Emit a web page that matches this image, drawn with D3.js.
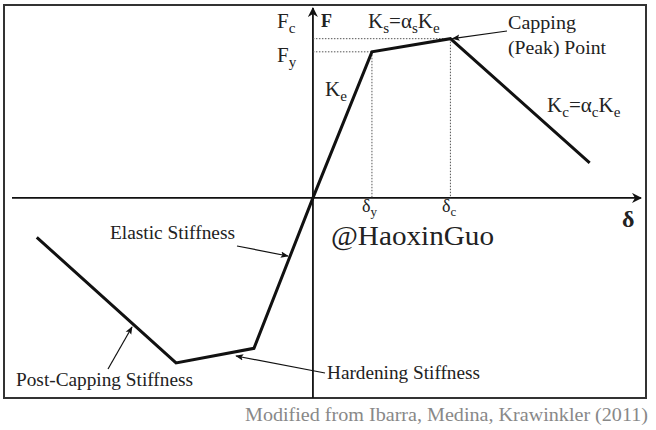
<!DOCTYPE html>
<html><head><meta charset="utf-8">
<script src="https://cdn.jsdelivr.net/npm/d3@7"></script>
</head>
<body style="margin:0;padding:0;background:#fff;"><div id="fig"></div>
<script>
// Backbone curve (normalized: delta / delta_y , F / F_y)
const backboneDelta = [-4.68, -2.32, -1.0, 0, 1.0, 2.33, 4.69];
const backboneForce = [-0.27, -1.13, -1.03, 0, 1.0, 1.09, 0.24];
const deltaY = 1.0, deltaC = 2.33, forceY = 1.0, forceC = 1.09;
const xDomain = [-5.1, 5.56];
const yDomain = [-1.37, 1.30];

const FONT = "Liberation Serif";
const W = 656, H = 430;
const svg = d3.select("#fig").append("svg").attr("width", W).attr("height", H)
  .style("display", "block");
const x = d3.scaleLinear().domain(xDomain).range([12, 641]);
const y = d3.scaleLinear().domain(yDomain).range([398, 8]);

// frame
svg.append("rect").attr("x", 4).attr("y", 5).attr("width", 642).attr("height", 393)
  .attr("fill", "none").attr("stroke", "#333").attr("stroke-width", 2);

const defs = svg.append("defs");
defs.append("marker").attr("id", "bigArrow").attr("viewBox", "0 0 10 10")
  .attr("refX", 9).attr("refY", 5).attr("markerWidth", 10).attr("markerHeight", 10)
  .attr("markerUnits", "userSpaceOnUse").attr("orient", "auto")
  .append("path").attr("d", "M0,0 L10,5 L0,10 L3,5 Z").attr("fill", "#111");
defs.append("marker").attr("id", "smallArrow").attr("viewBox", "0 0 10 10")
  .attr("refX", 9).attr("refY", 5).attr("markerWidth", 8).attr("markerHeight", 8)
  .attr("markerUnits", "userSpaceOnUse").attr("orient", "auto")
  .append("path").attr("d", "M0,1 L10,5 L0,9 L2,5 Z").attr("fill", "#111");

// axes
svg.append("line").attr("x1", x(xDomain[0])).attr("x2", x(xDomain[1])).attr("y1", y(0)).attr("y2", y(0))
  .attr("stroke", "#111").attr("stroke-width", 1.8).attr("marker-end", "url(#bigArrow)");
svg.append("line").attr("x1", x(0)).attr("x2", x(0)).attr("y1", y(yDomain[0])).attr("y2", y(yDomain[1]))
  .attr("stroke", "#111").attr("stroke-width", 1.8).attr("marker-end", "url(#bigArrow)");

// dotted guides
const dot = (x1, y1, x2, y2) => svg.append("line").attr("x1", x1).attr("y1", y1).attr("x2", x2).attr("y2", y2)
  .attr("stroke", "#555").attr("stroke-width", 1).attr("stroke-dasharray", "1.5,1.5");
dot(x(0), y(forceY), x(deltaY), y(forceY));
dot(x(0), y(forceC), x(deltaC), y(forceC));
dot(x(deltaY), y(forceY), x(deltaY), y(0));
dot(x(deltaC), y(forceC), x(deltaC), y(0));

// backbone
const pts = backboneDelta.map((d, i) => [d, backboneForce[i]]);
svg.append("path").datum(pts)
  .attr("d", d3.line().x(d => x(d[0])).y(d => y(d[1])))
  .attr("fill", "none").attr("stroke", "#111").attr("stroke-width", 3).attr("stroke-linejoin", "miter");

// text helper with subscripts: parts = [[text, isSub], ...]
function label(px, py, parts, size, opts = {}) {
  const t = svg.append("text").attr("x", px).attr("y", py)
    .attr("font-family", FONT).attr("font-size", size).attr("fill", opts.fill || "#222");
  if (opts.weight) t.attr("font-weight", opts.weight);
  if (parts.length === 1) {
    t.text(parts[0][0]);
    if (opts.len) t.attr("textLength", opts.len).attr("lengthAdjust", "spacingAndGlyphs");
    return t;
  }
  let sub = false;
  const shift = opts.shift || 5;
  parts.forEach(([s, isSub]) => {
    const ts = t.append("tspan").text(s);
    if (isSub && !sub) { ts.attr("dy", shift).attr("font-size", size * 0.72); sub = true; }
    else if (isSub) { ts.attr("font-size", size * 0.72); }
    else if (!isSub && sub) { ts.attr("dy", -shift); sub = false; }
  });
  return t;
}

label(277, 28, [["F"], ["c", 1]], 21);
label(277, 62, [["F"], ["y", 1]], 21);
label(321, 27, [["F"]], 18, { weight: "bold" });
label(368, 28, [["K"], ["s", 1], ["=α"], ["s", 1], ["K"], ["e", 1]], 21);
label(325, 96, [["K"], ["e", 1]], 21);
label(508, 29, [["Capping"]], 19, { len: 68 });
label(508, 54, [["(Peak) Point"]], 19, { len: 98 });
label(547, 112, [["K"], ["c", 1], ["=α"], ["c", 1], ["K"], ["e", 1]], 21);
label(362, 212, [["δ"], ["y", 1]], 18, { shift: 4 });
label(442, 212, [["δ"], ["c", 1]], 18, { shift: 4 });
label(622, 227, [["δ"]], 24, { weight: "bold" });
label(331, 245, [["@HaoxinGuo"]], 28, { len: 163 });
label(110, 239, [["Elastic Stiffness"]], 19, { len: 125 });
label(16, 386, [["Post-Capping Stiffness"]], 19, { len: 177 });
label(327, 379, [["Hardening Stiffness"]], 19, { len: 153 });
label(245, 421, [["Modified from Ibarra, Medina, Krawinkler (2011)"]], 19, { fill: "#888", len: 403 });

// annotation arrows
const arrow = (x1, y1, x2, y2) => svg.append("line").attr("x1", x1).attr("y1", y1).attr("x2", x2).attr("y2", y2)
  .attr("stroke", "#111").attr("stroke-width", 1.2).attr("marker-end", "url(#smallArrow)");
arrow(507, 31, x(deltaC) + 2, y(forceC));
arrow(237, 246, 288, 256);
arrow(108, 369, 132, 327);
arrow(325, 373, 236, 356);
</script></body></html>
